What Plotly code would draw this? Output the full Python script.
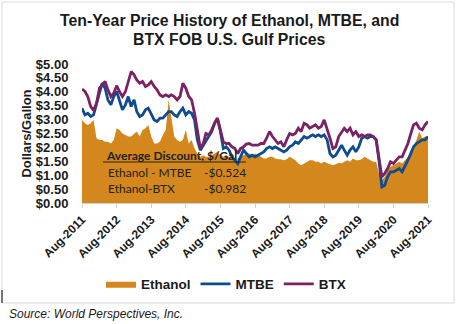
import pandas as pd
import plotly.graph_objects as go

dates = pd.date_range("2011-08-01", "2021-08-01", freq="MS")

ethanol = [2.99, 2.87, 2.81, 2.87, 2.99,
           2.33, 2.27, 2.27, 2.20, 2.20, 2.14, 2.27, 2.69, 2.63, 2.50, 2.45, 2.39,
           2.39, 2.50, 2.57, 2.39, 2.63, 2.69, 2.81, 2.39, 2.14, 2.14, 2.20, 2.45,
           2.63, 3.71, 3.11, 2.39, 2.27, 2.20, 2.27, 2.63, 2.14, 2.27, 1.96, 1.78,
           1.66, 1.72, 1.66, 1.66, 1.72, 1.78, 1.84, 1.72, 1.66, 1.72, 1.66, 1.60,
           1.54, 1.42, 1.66, 1.72, 1.78, 1.78, 1.72, 1.78, 1.72, 1.66, 1.60, 1.60,
           1.66, 1.66, 1.60, 1.57, 1.57, 1.54, 1.57, 1.66, 1.60, 1.54, 1.42, 1.36,
           1.42, 1.48, 1.54, 1.54, 1.48, 1.48, 1.42, 1.48, 1.42, 1.39, 1.36, 1.39,
           1.45, 1.42, 1.48, 1.54, 1.48, 1.60, 1.54, 1.54, 1.57, 1.66, 1.60, 1.54,
           1.48, 1.48, 1.06, 0.82, 0.94, 1.18, 1.30, 1.36, 1.42, 1.48, 1.42, 1.54,
           1.66, 1.90, 2.02, 2.27, 2.57, 2.33, 2.39, 2.39]

mtbe = [3.41, 3.17, 3.23, 3.11, 3.17,
        3.59, 4.01, 4.31, 4.13, 3.71, 3.53, 3.83, 4.01, 3.71, 3.35, 3.53, 3.83,
        3.47, 3.71, 3.29, 3.11, 3.17, 3.35, 3.41, 3.17, 2.99, 2.93, 3.05, 3.05,
        3.17, 3.29, 3.29, 3.17, 3.11, 3.29, 3.41, 3.17, 3.29, 3.23, 2.99, 2.27,
        1.90, 2.08, 2.20, 2.39, 2.57, 2.87, 3.05, 2.57, 1.96, 2.02, 1.90, 1.66,
        1.54, 1.42, 1.66, 1.90, 1.78, 1.66, 1.72, 1.66, 1.72, 1.78, 1.84, 1.96,
        2.02, 1.96, 2.02, 1.96, 1.90, 1.84, 1.90, 2.02, 2.08, 2.20, 2.14, 2.27,
        2.39, 2.33, 2.39, 2.45, 2.39, 2.45, 2.39, 2.45, 2.27, 1.78, 1.66, 1.72,
        1.90, 2.08, 1.90, 1.72, 1.90, 2.02, 1.84, 2.02, 2.33, 2.39, 2.33, 2.39,
        2.39, 2.27, 1.54, 0.58, 0.64, 0.94, 1.12, 1.12, 1.18, 1.24, 1.12, 1.36,
        1.54, 1.78, 2.02, 2.14, 2.20, 2.27, 2.27, 2.39]

btx = [4.10, 4.01, 3.83, 3.47, 3.33,
       3.59, 4.13, 4.25, 4.37, 4.07, 3.83, 3.95, 4.22, 4.00, 3.83, 4.00, 4.37,
       4.73, 4.61, 4.43, 4.31, 4.37, 4.19, 4.25, 4.37, 4.19, 4.07, 3.89, 3.83,
       3.89, 3.83, 3.89, 3.83, 3.71, 3.83, 4.31, 4.13, 3.83, 3.71, 3.23, 2.63,
       1.96, 2.14, 2.50, 2.45, 2.63, 2.87, 3.05, 2.63, 2.20, 2.14, 2.14, 2.02,
       1.96, 1.78, 1.96, 2.02, 2.12, 2.14, 2.08, 2.08, 2.08, 2.14, 2.14, 2.33,
       2.57, 2.39, 2.27, 2.14, 2.20, 2.02, 2.27, 2.50, 2.45, 2.50, 2.69, 2.57,
       2.87, 2.81, 2.69, 2.75, 2.81, 2.69, 2.75, 2.99, 2.69, 2.33, 1.96, 2.02,
       2.39, 2.57, 2.69, 2.57, 2.69, 2.45, 2.57, 2.39, 2.45, 2.39, 2.45, 2.45,
       2.39, 2.27, 1.66, 0.94, 1.06, 1.24, 1.48, 1.42, 1.54, 1.66, 1.66, 1.90,
       2.14, 2.50, 2.81, 2.87, 2.69, 2.63, 2.81, 2.93]

tick_dates = pd.date_range("2011-08-01", "2021-08-01", freq="12MS")
tick_labels = [d.strftime("Aug-%Y") for d in tick_dates]
y_ticks = [0, 0.5, 1, 1.5, 2, 2.5, 3, 3.5, 4, 4.5, 5]
y_labels = ["$%.2f" % v for v in y_ticks]

title_lines = ["Ten-Year Price History of Ethanol, MTBE, and", "BTX FOB U.S. Gulf Prices"]
box_title = "Average Discount, $/Gal."
box_rows = [("Ethanol - MTBE", "-$0.524"), ("Ethanol-BTX", "-$0.982")]
series_names = ["Ethanol", "MTBE", "BTX"]

C_ETH = "#D4871C"
C_MTBE = "#0F4B8F"
C_BTX = "#7A2262"

fig = go.Figure()
fig.add_trace(go.Scatter(x=dates, y=ethanol, name="<b>%s</b>" % series_names[0], mode="lines",
                         line=dict(width=0, color=C_ETH), fill="tozeroy",
                         fillcolor=C_ETH))
fig.add_trace(go.Scatter(x=dates, y=mtbe, name="<b>%s</b>" % series_names[1], mode="lines",
                         line=dict(width=2.8, color=C_MTBE)))
fig.add_trace(go.Scatter(x=dates, y=btx, name="<b>%s</b>" % series_names[2], mode="lines",
                         line=dict(width=2.8, color=C_BTX)))

# plot area: x 82..428, y 64..203 (px)
L, R, T, B = 82, 428, 64, 203
W, H = 456, 324
def px(x):
    return (x - L) / (R - L)
def py(y):
    return (B - y) / (B - T)

fig.update_layout(
    width=W, height=H,
    margin=dict(l=L, r=W - R, t=T, b=H - B, pad=0),
    paper_bgcolor="white", plot_bgcolor="white",
    font=dict(family="Liberation Sans, Arial, sans-serif", color="black"),
    showlegend=True,
    legend=dict(orientation="h", x=px(226), xanchor="center", y=py(284), yanchor="middle",
                font=dict(size=13.5, color="#1a1a1a"), traceorder="normal",
                itemwidth=30, tracegroupgap=0, bgcolor="rgba(0,0,0,0)"),
    xaxis=dict(range=[dates[0], dates[-1]], tickvals=list(tick_dates),
               ticktext=["<b>%s</b>" % t for t in tick_labels], tickangle=-45,
               tickfont=dict(size=12, color="#1a1a1a"), showgrid=False,
               showline=True, linecolor="#d0d0d0", linewidth=1,
               ticks="outside", ticklen=4, tickcolor="#d0d0d0", zeroline=False),
    yaxis=dict(range=[0, 5], tickvals=y_ticks,
               ticktext=["<b>%s</b>" % t for t in y_labels],
               tickfont=dict(size=13, color="#1a1a1a"), showgrid=False,
               showline=False, zeroline=False, ticks="outside", ticklen=10,
               tickcolor="rgba(0,0,0,0)",
               title=dict(text="<b>Dollars/Gallon</b>", font=dict(size=13, color="#1a1a1a"),
                          standoff=1)),
)

# title lines
for i, line in enumerate(title_lines):
    fig.add_annotation(xref="paper", yref="paper", x=px(229), y=py(21 + 18.5 * i),
                       xanchor="center", yanchor="middle", showarrow=False,
                       text="<b>%s</b>" % line, font=dict(size=15.8, color="#1a1a1a"))

# outer chart border
fig.add_shape(type="rect", xref="paper", yref="paper",
              x0=px(2), x1=px(454), y0=py(303), y1=py(2),
              line=dict(color="#d9d9d9", width=1), fillcolor="rgba(0,0,0,0)", layer="below")
fig.add_shape(type="line", xref="paper", yref="paper",
              x0=px(2), x1=px(2), y0=py(303), y1=py(290),
              line=dict(color="black", width=1))

# discount box text
fig.add_annotation(xref="paper", yref="paper", x=px(104), y=py(155), xanchor="left",
                   yanchor="middle", showarrow=False, text="<b>" + box_title + "</b>",
                   font=dict(family="Lato, sans-serif", size=12, color="#222222"))
fig.add_shape(type="line", xref="paper", yref="paper", x0=px(103), x1=px(246),
              y0=py(162), y1=py(162), line=dict(color="#222222", width=1.2))
for i, (lab, val) in enumerate(box_rows):
    yy = py(172 + 16 * i)
    fig.add_annotation(xref="paper", yref="paper", x=px(106), y=yy, xanchor="left",
                       yanchor="middle", showarrow=False, text=lab,
                       font=dict(family="Lato, sans-serif", size=12, color="#222222"))
    fig.add_annotation(xref="paper", yref="paper", x=px(202), y=yy, xanchor="left",
                       yanchor="middle", showarrow=False, text=val,
                       font=dict(family="Lato, sans-serif", size=12, color="#222222"))

fig.add_annotation(xref="paper", yref="paper", x=px(7), y=py(314), xanchor="left",
                   yanchor="middle", showarrow=False,
                   text="<i>Source: World Perspectives, Inc.</i>",
                   font=dict(size=12, color="#1a1a1a"))

fig.write_html("out.html", config={"displayModeBar": False})
